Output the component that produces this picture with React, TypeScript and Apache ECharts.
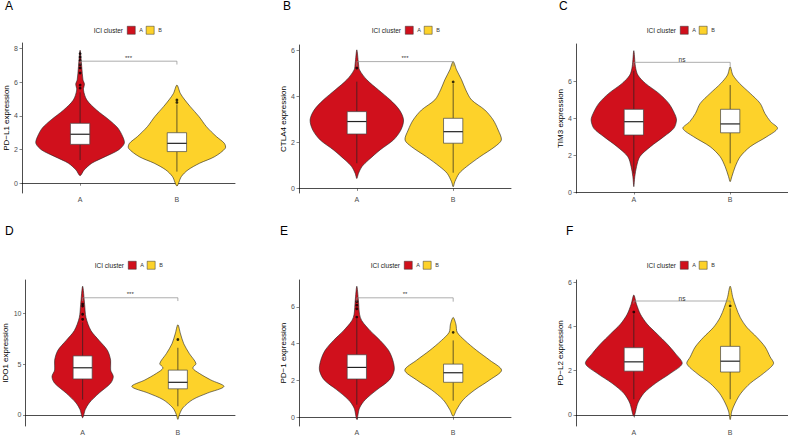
import React, { useEffect, useRef } from "react";
import * as echarts from "echarts";

// ---------- data ----------
const groups = ["A", "B"];
const genes = ["PD−L1", "CTLA4", "TIM3", "IDO1", "PD−1", "PD−L2"];
const panelLetters = ["A", "B", "C", "D", "E", "F"];
const yTicks = [[0, 2, 4, 6, 8], [0, 2, 4, 6], [0, 2, 4, 6], [0, 5, 10], [0, 2, 4, 6], [0, 2, 4, 6]];
const yMin = [-0.58, -0.2, -0.054, -1.1, -0.48, -0.5];
const yMax = [8.33, 6.22, 8.0, 13.27, 7.47, 6.1];

// violin outlines: [expression value, half-width in x-axis units]
const pdl1ViolinA = [[0.45, 0], [0.79, 0.042], [1.19, 0.121], [1.58, 0.26], [1.98, 0.398], [2.37, 0.457], [2.77, 0.44], [3.28, 0.39], [3.76, 0.3], [4.35, 0.17], [4.94, 0.07], [5.54, 0.035], [5.9, 0.045], [6.13, 0.03], [6.92, 0.017], [7.9, 0]];
const pdl1ViolinB = [[-0.16, 0], [0.39, 0.045], [0.79, 0.114], [1.19, 0.235], [1.58, 0.39], [2.08, 0.5], [2.37, 0.49], [2.77, 0.408], [3.36, 0.305], [3.96, 0.228], [4.55, 0.138], [5.0, 0.075], [5.34, 0.035], [5.83, 0]];
const ctla4ViolinA = [[0.43, 0], [0.65, 0.017], [0.94, 0.052], [1.23, 0.121], [1.67, 0.242], [2.1, 0.38], [2.53, 0.457], [2.97, 0.485], [3.4, 0.443], [3.84, 0.346], [4.27, 0.225], [4.71, 0.104], [5.14, 0.028], [5.43, 0.017], [6.01, 0]];
const ctla4ViolinB = [[0.07, 0], [0.29, 0.017], [0.65, 0.062], [0.94, 0.138], [1.37, 0.277], [1.81, 0.433], [2.1, 0.5], [2.53, 0.467], [2.97, 0.415], [3.4, 0.329], [3.84, 0.19], [4.27, 0.131], [4.71, 0.087], [5.14, 0.035], [5.5, 0]];
const tim3ViolinA = [[0.29, 0], [0.83, 0.01], [1.37, 0.028], [1.91, 0.062], [2.45, 0.173], [2.99, 0.311], [3.44, 0.415], [3.89, 0.443], [4.25, 0.422], [4.79, 0.363], [5.33, 0.26], [5.87, 0.121], [6.32, 0.042], [6.77, 0.017], [7.64, 0]];
const tim3ViolinB = [[0.56, 0], [0.83, 0.017], [1.37, 0.052], [1.91, 0.104], [2.45, 0.208], [2.99, 0.38], [3.44, 0.491], [3.8, 0.42], [4.25, 0.36], [4.79, 0.311], [5.33, 0.208], [5.87, 0.097], [6.32, 0.028], [6.77, 0]];
const ido1ViolinA = [[-0.29, 0], [0.52, 0.028], [1.17, 0.069], [2.14, 0.173], [3.11, 0.294], [3.76, 0.322], [4.41, 0.294], [5.38, 0.294], [6.35, 0.26], [7.32, 0.173], [8.29, 0.087], [9.58, 0.035], [10.87, 0.021], [12.66, 0]];
const ido1ViolinB = [[-0.45, 0], [0.04, 0.017], [0.68, 0.052], [1.5, 0.156], [2.14, 0.311], [2.79, 0.484], [3.43, 0.346], [4.08, 0.225], [4.6, 0.156], [5.05, 0.19], [6.02, 0.121], [6.99, 0.062], [7.96, 0.028], [8.87, 0]];
const pd1ViolinA = [[-0.12, 0], [0.5, 0.028], [0.95, 0.087], [1.49, 0.208], [2.03, 0.339], [2.56, 0.388], [3.1, 0.374], [3.64, 0.329], [4.18, 0.242], [4.71, 0.138], [5.25, 0.052], [5.61, 0.028], [6.33, 0.017], [7.13, 0]];
const pd1ViolinB = [[0.05, 0], [0.41, 0.035], [0.95, 0.104], [1.49, 0.225], [2.03, 0.38], [2.56, 0.502], [3.1, 0.38], [3.64, 0.242], [4.18, 0.121], [4.62, 0.042], [5.07, 0.028], [5.43, 0]];
const pdl2ViolinA = [[-0.06, 0], [0.54, 0.042], [0.98, 0.104], [1.43, 0.225], [1.88, 0.38], [2.32, 0.502], [2.77, 0.433], [3.21, 0.346], [3.66, 0.242], [4.11, 0.138], [4.55, 0.069], [5.0, 0.028], [5.42, 0]];
const pdl2ViolinB = [[-0.21, 0], [0.17, 0.017], [0.54, 0.052], [0.98, 0.111], [1.43, 0.208], [1.88, 0.346], [2.32, 0.45], [2.62, 0.415], [3.07, 0.363], [3.51, 0.277], [3.96, 0.173], [4.41, 0.104], [4.85, 0.062], [5.3, 0.028], [5.82, 0]];

// boxplots: [lower whisker, Q1, median, Q3, upper whisker]
const pdl1BoxA = [1.38, 2.31, 2.91, 3.56, 5.4];
const pdl1BoxB = [0.69, 1.88, 2.37, 3.0, 4.68];
const ctla4BoxA = [1.09, 2.36, 2.9, 3.33, 4.63];
const ctla4BoxB = [0.68, 1.96, 2.46, 3.04, 4.55];
const tim3BoxA = [1.0, 3.08, 3.8, 4.47, 6.55];
const tim3BoxB = [1.55, 3.2, 3.68, 4.47, 5.78];
const ido1BoxA = [1.5, 3.53, 4.63, 5.8, 9.1];
const ido1BoxB = [0.84, 2.56, 3.2, 4.4, 6.6];
const pd1BoxA = [0.68, 2.08, 2.71, 3.4, 5.34];
const pd1BoxB = [0.9, 1.9, 2.42, 2.89, 4.18];
const pdl2BoxA = [0.71, 1.98, 2.4, 3.04, 4.55];
const pdl2BoxB = [0.71, 1.94, 2.43, 3.1, 4.82];

// outliers
const pdl1OutA = [5.65, 5.83, 6.55, 6.85, 7.05, 7.3, 7.5, 7.7];
const pdl1OutB = [4.8, 4.95];
const ctla4OutA = [5.22];
const ctla4OutB = [4.62];
const tim3OutA: number[] = [];
const tim3OutB: number[] = [];
const ido1OutA = [9.4, 9.9, 10.7, 10.9];
const ido1OutB = [7.41];
const pd1OutA = [5.45, 5.9, 6.1, 6.3];
const pd1OutB = [4.62];
const pdl2OutA = [4.65];
const pdl2OutB = [4.93];

// significance brackets
const sigLevel = [7.25, 5.5, 7.01, 11.52, 6.5, 5.15];
const sigTip = [0.2, 0.21, 0.23, 0.32, 0.21, 0.12];
const sigLabel = ["***", "***", "ns", "***", "**", "ns"];

const violins = [
  [pdl1ViolinA, pdl1ViolinB], [ctla4ViolinA, ctla4ViolinB], [tim3ViolinA, tim3ViolinB],
  [ido1ViolinA, ido1ViolinB], [pd1ViolinA, pd1ViolinB], [pdl2ViolinA, pdl2ViolinB],
];
const boxes = [
  [pdl1BoxA, pdl1BoxB], [ctla4BoxA, ctla4BoxB], [tim3BoxA, tim3BoxB],
  [ido1BoxA, ido1BoxB], [pd1BoxA, pd1BoxB], [pdl2BoxA, pdl2BoxB],
];
const outliers = [
  [pdl1OutA, pdl1OutB], [ctla4OutA, ctla4OutB], [tim3OutA, tim3OutB],
  [ido1OutA, ido1OutB], [pd1OutA, pd1OutB], [pdl2OutA, pdl2OutB],
];

// ---------- layout / style ----------
const FONT = "Liberation Sans, Arial, Helvetica, sans-serif";
const fills = ["#D0101C", "#FDD22A"];
const layout = [
  { left: 22, top: 43, width: 213, height: 150, lx: 5, ly: 0, gx: 127, gy: 26, nameGap: 12 },
  { left: 299, top: 45, width: 212, height: 148, lx: 283, ly: 0, gx: 405, gy: 26, nameGap: 11 },
  { left: 576, top: 44, width: 212, height: 149, lx: 559, ly: 0, gx: 680, gy: 26, nameGap: 12 },
  { left: 25.5, top: 280, width: 209.5, height: 148, lx: 5, ly: 225, gx: 128, gy: 261, nameGap: 15 },
  { left: 299, top: 280, width: 212, height: 148, lx: 280, ly: 225, gx: 404, gy: 261, nameGap: 11 },
  { left: 576, top: 280, width: 212, height: 148, lx: 566, ly: 225, gx: 680, gy: 261, nameGap: 12 },
];

function buildOption() {
  const grid = layout.map((l) => ({ left: l.left, top: l.top, width: l.width, height: l.height }));
  const xAxis = layout.map((_, i) => ({
    type: "value",
    gridIndex: i,
    min: 0.4,
    max: 2.6,
    splitLine: { show: false },
    axisLine: { show: true, lineStyle: { color: "#000", width: 0.7 } },
    axisTick: { show: true, customValues: [1, 2], length: 2.5, lineStyle: { color: "#333", width: 0.6 } },
    axisLabel: {
      customValues: [1, 2],
      formatter: (v: number) => groups[Math.round(v) - 1] ?? "",
      fontSize: 7,
      color: "#4D4D4D",
      fontFamily: FONT,
      margin: 3,
    },
  }));
  const yAxis = layout.map((l, i) => ({
    type: "value",
    gridIndex: i,
    min: yMin[i],
    max: yMax[i],
    splitLine: { show: false },
    axisLine: { show: true, lineStyle: { color: "#000", width: 0.7 } },
    axisTick: { show: true, customValues: yTicks[i], length: 2.5, lineStyle: { color: "#333", width: 0.6 } },
    axisLabel: { customValues: yTicks[i], fontSize: 7, color: "#4D4D4D", fontFamily: FONT, margin: 4 },
    name: genes[i] + " expression",
    nameLocation: "middle",
    nameGap: l.nameGap,
    nameTextStyle: { fontSize: 8, color: "#000", fontFamily: FONT },
  }));

  const series: any[] = [];
  for (let p = 0; p < 6; p++) {
    for (let g = 0; g < 2; g++) {
      const profile = violins[p][g];
      const box = boxes[p][g];
      series.push({
        type: "custom",
        name: groups[g],
        xAxisIndex: p,
        yAxisIndex: p,
        silent: true,
        itemStyle: { color: fills[g], borderColor: "#333", borderWidth: 0.5 },
        data: [[g + 1]],
        renderItem: (_params: any, api: any) => {
          const cx = api.value(0);
          const right = profile.map(([v, w]) => api.coord([cx + w, v]));
          const left = profile.slice(1, -1).reverse().map(([v, w]) => api.coord([cx - w, v]));
          const pts = right.concat(left);
          const [lo, q1, med, q3, hi] = box;
          const bw = 0.1;
          const pLo = api.coord([cx, lo]);
          const pQ1 = api.coord([cx, q1]);
          const pQ3 = api.coord([cx, q3]);
          const pHi = api.coord([cx, hi]);
          const tl = api.coord([cx - bw, q3]);
          const br = api.coord([cx + bw, q1]);
          const ml = api.coord([cx - bw, med]);
          const mr = api.coord([cx + bw, med]);
          return {
            type: "group",
            children: [
              { type: "polygon", shape: { points: pts, smooth: 0.3 }, style: { fill: fills[g], stroke: "#222", lineWidth: 0.6 } },
              { type: "line", shape: { x1: pLo[0], y1: pLo[1], x2: pQ1[0], y2: pQ1[1] }, style: { stroke: "#222", lineWidth: 0.7 } },
              { type: "line", shape: { x1: pQ3[0], y1: pQ3[1], x2: pHi[0], y2: pHi[1] }, style: { stroke: "#222", lineWidth: 0.7 } },
              { type: "rect", shape: { x: tl[0], y: tl[1], width: br[0] - tl[0], height: br[1] - tl[1] }, style: { fill: "#fff", stroke: "#444", lineWidth: 0.7 } },
              { type: "line", shape: { x1: ml[0], y1: ml[1], x2: mr[0], y2: mr[1] }, style: { stroke: "#222", lineWidth: 1.2 } },
            ],
          };
        },
      });
      series.push({
        type: "scatter",
        xAxisIndex: p,
        yAxisIndex: p,
        silent: true,
        symbolSize: 2.8,
        itemStyle: { color: "#000" },
        data: outliers[p][g].map((v) => [g + 1, v]),
        z: 5,
      });
    }
    // significance bracket
    series.push({
      type: "custom",
      xAxisIndex: p,
      yAxisIndex: p,
      silent: true,
      z: 6,
      data: [[1, 2, sigLevel[p], sigTip[p]]],
      renderItem: (_params: any, api: any) => {
        const x1 = api.value(0);
        const x2 = api.value(1);
        const y = api.value(2);
        const tip = api.value(3);
        const a = api.coord([x1, y - tip]);
        const b = api.coord([x1, y]);
        const c = api.coord([x2, y]);
        const d = api.coord([x2, y - tip]);
        const mid = api.coord([(x1 + x2) / 2, y]);
        const isNs = sigLabel[p] === "ns";
        return {
          type: "group",
          children: [
            { type: "polyline", shape: { points: [a, b, c, d] }, style: { stroke: "#8a8a8a", lineWidth: 0.7, fill: "none" } },
            {
              type: "text",
              x: mid[0],
              y: mid[1] + (isNs ? 1 : -0.5),
              style: { text: sigLabel[p], fontSize: isNs ? 6.5 : 6, fontFamily: FONT, fill: "#333", align: "center", verticalAlign: "bottom" },
            },
          ],
        };
      },
    });
  }

  const legend = layout.map((l) => ({
    data: groups,
    left: l.gx,
    top: l.gy,
    orient: "horizontal",
    icon: "rect",
    itemWidth: 8,
    itemHeight: 8,
    itemGap: 3,
    selectedMode: false,
    padding: 0,
    itemStyle: { borderColor: "#333", borderWidth: 0.5 },
    textStyle: { fontSize: 5.5, color: "#333", fontFamily: FONT, padding: [0, 0, 0, -1] },
  }));

  const graphic: any[] = [];
  layout.forEach((l, i) => {
    graphic.push({
      type: "text",
      left: l.lx,
      top: l.ly,
      style: { text: panelLetters[i], fontSize: 12, fontFamily: FONT, fill: "#000" },
    });
    graphic.push({
      type: "text",
      x: l.gx - 4,
      y: l.gy + 4,
      style: { text: "ICI cluster", fontSize: 6.5, fontFamily: FONT, fill: "#222", align: "right", verticalAlign: "middle" },
    });
  });

  return {
    animation: false,
    backgroundColor: "#fff",
    grid,
    xAxis,
    yAxis,
    series,
    legend,
    graphic,
  };
}

export default function App() {
  const ref = useRef<HTMLDivElement>(null);
  useEffect(() => {
    document.body.style.margin = "0";
    if (!ref.current) return;
    const chart = echarts.init(ref.current, null, { renderer: "svg" });
    chart.setOption(buildOption() as any);
    return () => chart.dispose();
  }, []);
  return <div ref={ref} style={{ width: 788, height: 436 }} />;
}
